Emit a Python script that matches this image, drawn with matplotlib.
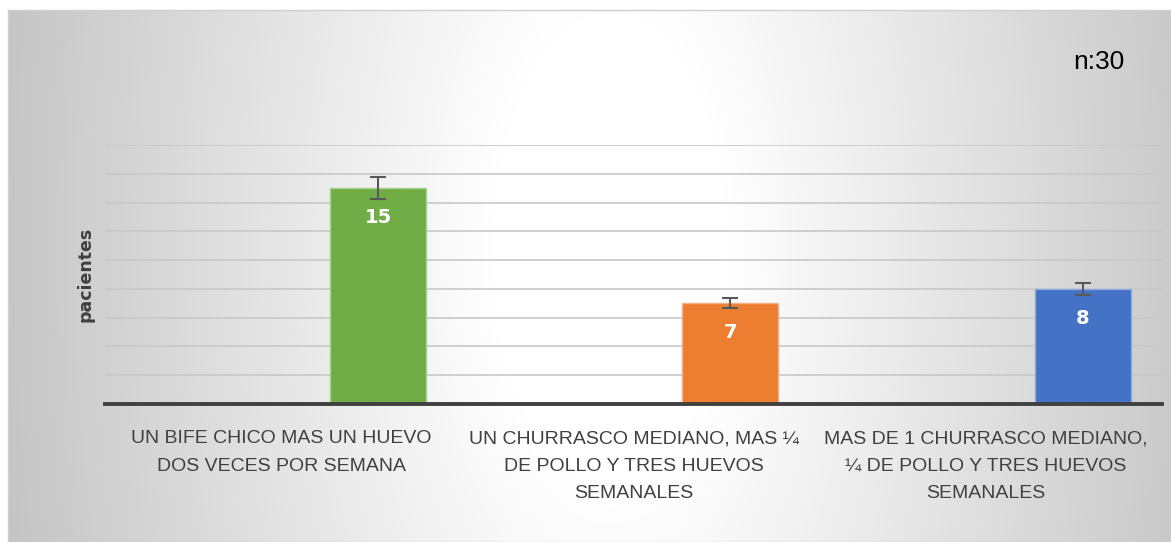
import numpy as np
import matplotlib
matplotlib.use('Agg')
import matplotlib.pyplot as plt

categorias = ['UN BIFE CHICO MAS UN HUEVO\nDOS VECES POR SEMANA',
              'UN CHURRASCO MEDIANO, MAS ¼\nDE POLLO Y TRES HUEVOS\nSEMANALES',
              'MAS DE 1 CHURRASCO MEDIANO,\n¼ DE POLLO Y TRES HUEVOS\nSEMANALES']
pacientes = [15, 7, 8]
errores = [0.75, 0.35, 0.4]
colores = ['#70ad47', '#ed7d31', '#4472c4']

W, H = 1171, 542
fig = plt.figure(figsize=(W / 100, H / 100), dpi=100)
fig.patch.set_facecolor('white')

# fondo con degradado radial
bg = fig.add_axes([8 / W, 0, 1 - 8 / W, (H - 10) / H])
xx, yy = np.meshgrid(np.linspace(8, W, 600), np.linspace(10, H, 300))
t = np.sqrt(((xx - 610) / 590) ** 2 + ((yy - 250) / 1200) ** 2)
t = np.clip((t - 0.2) / 0.85, 0, 1)
g = 1 - (1 - 0.77) * t
img = np.dstack([g, g, g])
bg.imshow(img, aspect='auto', extent=[0, 1, 0, 1], origin='upper')
bg.set_xlim(0, 1)
bg.set_ylim(0, 1)
bg.set_xticks([])
bg.set_yticks([])
for s in bg.spines.values():
    s.set_color('#d0d0d0')
    s.set_linewidth(1)

ax = fig.add_axes([105 / W, (H - 404) / H, 1057 / W, (404 - 145) / H])
ax.patch.set_alpha(0)
x = np.arange(len(categorias))
bars = ax.bar(x + 0.275, pacientes, width=0.273, color=colores,
              edgecolor=['#a9d08e', '#f4b084', '#8ea9db'], linewidth=1, zorder=3)
ax.errorbar(x + 0.275, pacientes, yerr=errores, fmt='none', ecolor='#595959',
            elinewidth=1.5, capsize=6, capthick=1.5, zorder=4)
for b, v in zip(bars, pacientes):
    ax.annotate(str(v), (b.get_x() + b.get_width() / 2, v), xytext=(0, -21),
                textcoords='offset points', ha='center', va='center',
                color='white', fontsize=14, fontweight='bold', zorder=5)

ax.set_xlim(-0.5, 2.5)
ax.set_ylim(0, 18)
ax.set_yticks(np.arange(2, 19, 2))
ax.set_yticklabels([])
ax.tick_params(axis='y', length=0)
ax.grid(axis='y', color='#c8c8c8', linewidth=1.2, zorder=0)
ax.set_axisbelow(True)
ax.set_xticks(x)
ax.set_xticklabels(categorias, fontsize=14, color='#404040',
                   family=['Liberation Sans', 'DejaVu Sans'], linespacing=1.78)
ax.tick_params(axis='x', length=0, pad=19)
for k in ['top', 'left', 'right']:
    ax.spines[k].set_visible(False)
ax.spines['bottom'].set_color('#404040')
ax.spines['bottom'].set_linewidth(2.8)
ax.spines['bottom'].set_zorder(6)
ax.set_ylabel('pacientes', fontsize=12.5, fontweight='bold', color='#404040', labelpad=4)

fig.text(1099 / W, 1 - 62 / H, 'n:30', fontsize=19, ha='center', va='center',
         color='black', family=['Liberation Sans', 'DejaVu Sans'])

fig.savefig('out.png', dpi=100)
